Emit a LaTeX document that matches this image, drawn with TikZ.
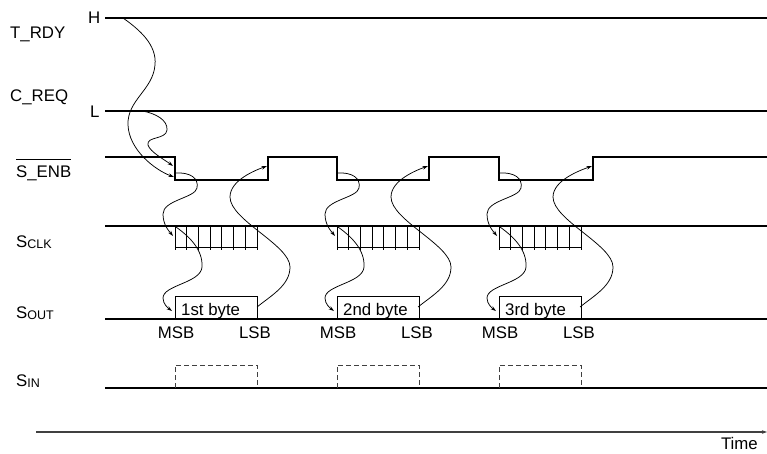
\documentclass[tikz,border=0pt]{standalone}
\usepackage{fontspec}
\setmainfont{Liberation Sans}
\usetikzlibrary{arrows.meta}
\newcommand\mysub[1]{\raisebox{-1.2pt}{\fontsize{12.5}{13}\selectfont #1}}
\begin{document}
\begin{tikzpicture}[x=1pt,y=-1pt,
  sig/.style={line width=1.8pt},
  thn/.style={line width=0.8pt},
  dsh/.style={line width=1pt, black!75, dash pattern=on 5pt off 3pt},
  arr/.style={line width=0.75pt,-{Stealth[length=5.5pt,width=3.6pt]}},
  lbl/.style={inner sep=0pt, anchor=base west, font=\fontsize{16.8}{18}\selectfont},
  ]
\useasboundingbox (0,0) rectangle (767,453);

% labels
\node[lbl] (trdy) at (10,38) {T\_RDY};
\node[lbl] (creq) at (10,101) {C\_REQ};
\node[lbl] (senb) at (16,177) {S\_ENB};
\draw[line width=0.7pt] ([yshift=6pt]senb.north west) -- ([yshift=6pt]senb.north east);
\node[lbl] (sclk) at (16,247) {S\mysub{CLK}};
\node[lbl] (sout) at (16,318) {S\mysub{OUT}};
\node[lbl] (sin) at (16,386) {S\mysub{IN}};
\node[lbl] (hlab) at (88,23) {H};
\node[lbl] (llab) at (90,117) {L};

% signal lines
\draw[sig] (105,18) -- (767,18);
\draw[sig] (105,111) -- (767,111);
\draw[sig] (105,157) -| (175,180) -| (268,157) -| (337,180) -| (429,157) -| (499,180) -| (593,157) -- (767,157);
\draw[sig] (105,226) -- (767,226);
\draw[sig] (105,319) -- (767,319);
\draw[sig] (105,388) -- (767,388);

% time axis
\draw[line width=1.2pt, black!75, -{Stealth[length=5pt,width=3.5pt]}] (36,432) -- (767,432);
\node[lbl, anchor=base east] (time) at (758,449) {Time};

% byte groups
\foreach \f/\r/\n/\t/\k in {175/257/268/1st byte/1, 337/418/429/2nd byte/2, 499/580/593/3rd byte/3} {
  % clock ticks
  \foreach \i in {0,...,7}
    \draw[thn] (\f+\i*11.7,226) -- (\f+\i*11.7,250);
  \draw[thn] (\f,247) -- (\f+82,247);
  % data box
  \draw[thn] (\f,319) |- (\f+82,296) -- (\f+82,319);
  \node[lbl] (byte\k) at (\f+6,315) {\t};
  \node[lbl, anchor=base] (msb\k) at (\f+1,338) {MSB};
  \node[lbl, anchor=base] (lsb\k) at (\f+80,338) {LSB};
  % S_IN dashed box
  \draw[dsh] (\f,388) |- (\f+82,365) -- (\f+82,388);
  % named points
  \coordinate (fa\k) at (\f,173);
  \coordinate (ck\k) at (\f-2,236);
  \coordinate (cs\k) at (\f+1,227);
  \coordinate (bl\k) at (\f-3,311);
  \coordinate (br\k) at (\r,307);
  \coordinate (ri\k) at (\n-1,166);
  % arrows
  \draw[arr] (fa\k) .. controls (\f+15,172) and (\f+24,178) .. (\f+22,188)
     .. controls (\f+20,198) and (\f-12,200) .. (\f-12,214)
     .. controls (\f-12,225) and (\f-6,231) .. (ck\k);
  \draw[arr] (cs\k) .. controls (\f+15,237) and (\f+28,250) .. (\f+27,267)
     .. controls (\f+26,283) and (\f-12,285) .. (\f-12,298)
     .. controls (\f-12,304) and (\f-7,308) .. (bl\k);
  \draw[arr] (br\k) .. controls (\r+15,295) and (\r+33,285) .. (\r+33,267)
     .. controls (\r+33,245) and (\r-27,220) .. (\r-27,197)
     .. controls (\r-27,180) and (\n-12,170) .. (ri\k);
}

% start arrows
\coordinate (ts) at (123,18);
\coordinate (te) at (174,177);
\coordinate (cs) at (142,111);
\coordinate (ce) at (173,166);
\draw[arr] (ts) .. controls (140,30) and (157,45) .. (155,65)
   .. controls (153,90) and (127,100) .. (128,125)
   .. controls (129,150) and (155,170) .. (te);
\draw[arr] (cs) .. controls (155,113) and (168,120) .. (167,130)
   .. controls (166,140) and (146,136) .. (148,145)
   .. controls (150,152) and (165,160) .. (ce);
\end{tikzpicture}
\end{document}
